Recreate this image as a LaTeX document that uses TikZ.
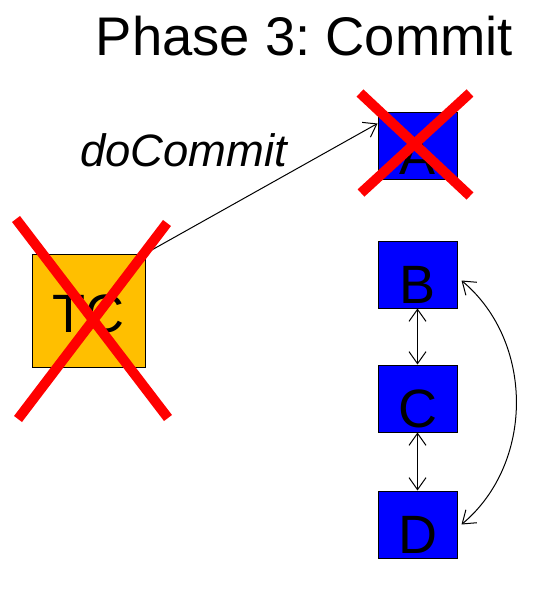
\documentclass[tikz,border=0pt]{standalone}
\usepackage{fontspec}
\setmainfont{Liberation Sans}
\usepackage{xcolor}
\usepackage{tikz}
\usetikzlibrary{arrows.meta,positioning,calc}
\definecolor{cSite}{HTML}{0000FF}
\definecolor{cCoord}{HTML}{FFBF00}
\definecolor{cCross}{HTML}{FF0000}
\definecolor{cInk}{HTML}{000000}
\tikzset{
  sitebox/.style={draw=cInk,fill=cSite,line width=0.5pt,inner sep=0pt,minimum width=39.5pt,
    text height=31pt,text depth=2.5pt,font=\fontsize{27}{32}\selectfont,text=cInk},
  tcbox/.style={draw=cInk,fill=cCoord,line width=0.5pt,inner sep=0pt,minimum width=56.5pt,
    text height=39pt,text depth=17.5pt,font=\fontsize{27}{32}\selectfont,text=cInk},
  cross/.style={draw=cCross,line width=5pt},
  arr/.style={-{Straight Barb[length=6pt,width=8.5pt]},line width=0.5pt,color=cInk},
  darr/.style={{Straight Barb[length=6pt,width=8.5pt]}-{Straight Barb[length=6pt,width=8.5pt]},line width=0.5pt,color=cInk},
  lbl/.style={font=\fontsize{22.7}{27}\selectfont\itshape,text=cInk,inner sep=0pt,anchor=base},
}
\frenchspacing

\begin{document}
\begin{tikzpicture}[x=0.5pt,y=-0.5pt]
  \useasboundingbox (0,0) rectangle (535,589);
  \node[anchor=base,inner sep=0pt,font=\fontsize{27.2}{32}\selectfont] (title) at (304.5,55) {Phase 3: Commit};
  % participants
  \node[tcbox] (TC) at (88.5,310.5) {TC};
  \node[sitebox] (A) at (417.5,145.5) {A};
  \node[sitebox] (B) at (417.5,274.5) {B};
  \node[sitebox] (C) at (417.5,398.5) {C};
  \node[sitebox] (D) at (417.5,524.5) {D};
  % messages
  \draw[arr] (TC.north east) -- ([yshift=-6pt]A.north west);
  \node[lbl] (msg) at (183.5,166) {doCommit};
  \draw[darr] (B.south) -- (C.north);
  \draw[darr] (C.south) -- (D.north);
  \draw[darr] ([xshift=2pt,yshift=-3pt]B.east) to[bend left=50] ([xshift=2pt]D.east);
  % failures
  \draw[cross] (16,219) -- (168,418);
  \draw[cross] (167,223) -- (18,419);
  \draw[cross] (360,93) -- (470,196);
  \draw[cross] (470,93) -- (361,193);
\end{tikzpicture}
\end{document}
